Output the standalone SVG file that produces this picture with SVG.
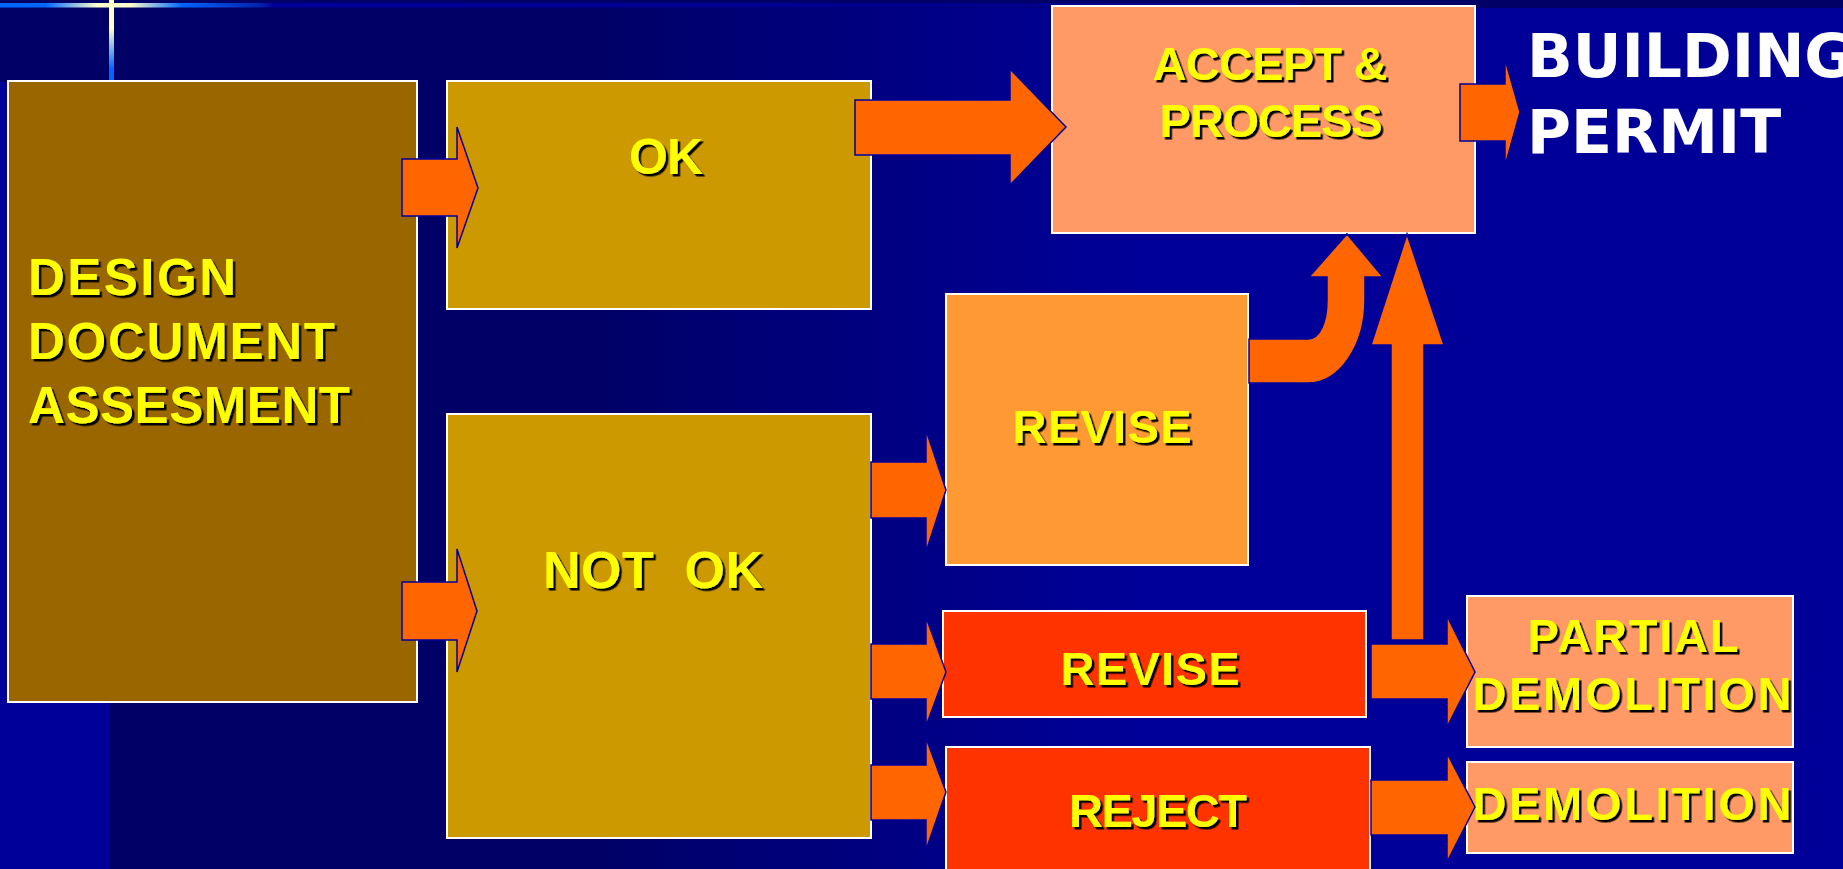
<svg xmlns="http://www.w3.org/2000/svg" width="1843" height="869" viewBox="0 0 1843 869">
<defs>
<linearGradient id="bgGrad" x1="0" y1="0" x2="1843" y2="0" gradientUnits="userSpaceOnUse">
<stop offset="0.06" stop-color="#000066"/>
<stop offset="0.32" stop-color="#000066"/>
<stop offset="0.62" stop-color="#000099"/>
<stop offset="1" stop-color="#000099"/>
</linearGradient>
<linearGradient id="topLine" x1="0" y1="0" x2="1300" y2="0" gradientUnits="userSpaceOnUse">
<stop offset="0" stop-color="#0066ff"/>
<stop offset="0.035" stop-color="#0066ff"/>
<stop offset="0.075" stop-color="#ffffcc"/>
<stop offset="0.1" stop-color="#ffffcc"/>
<stop offset="0.14" stop-color="#0066ff"/>
<stop offset="0.2" stop-color="#0022aa"/>
<stop offset="0.21" stop-color="#000099"/>
<stop offset="1" stop-color="#000088"/>
</linearGradient>
<linearGradient id="vLine" x1="0" y1="0" x2="0" y2="81" gradientUnits="userSpaceOnUse">
<stop offset="0" stop-color="#ffffcc"/>
<stop offset="0.35" stop-color="#ffffcc"/>
<stop offset="0.85" stop-color="#0066ff"/>
<stop offset="1" stop-color="#0066ff"/>
</linearGradient>
<filter id="shadow" x="-10%" y="-20%" width="130%" height="150%">
<feDropShadow dx="2.5" dy="2.5" stdDeviation="0.4" flood-color="#000000" flood-opacity="1"/>
</filter>
<style>
.box{stroke:#ffffff;stroke-width:2}
.arrow{fill:#ff6600;stroke:#000099;stroke-width:1.5;stroke-linejoin:miter}
.lbl{font-family:"Liberation Sans",Arial,sans-serif;font-weight:bold;fill:#ffff00;filter:url(#shadow)}
.mid{text-anchor:middle}
.title{font-family:"DejaVu Sans",Verdana,sans-serif;font-weight:bold;fill:#ffffff;font-size:60px}
</style>
</defs>

<!-- background -->
<rect x="0" y="0" width="1843" height="869" fill="#000099"/>
<rect x="109" y="0" width="1734" height="869" fill="url(#bgGrad)"/>
<rect x="0" y="0" width="109" height="82" fill="#000066"/>
<rect x="0" y="0" width="1843" height="8" fill="#000066"/>
<rect x="0" y="3" width="1300" height="4.5" fill="url(#topLine)"/>
<rect x="109" y="0" width="5" height="81" fill="url(#vLine)"/>

<!-- nodes -->
<g id="design">
<rect class="box" x="8" y="81" width="409" height="621" fill="#996600"/>
<text class="lbl" font-size="51" x="28" y="295" textLength="208" lengthAdjust="spacing">DESIGN</text>
<text class="lbl" font-size="51" x="28" y="359" textLength="307" lengthAdjust="spacing">DOCUMENT</text>
<text class="lbl" font-size="51" x="28" y="423" textLength="322" lengthAdjust="spacing">ASSESMENT</text>
</g>
<g id="ok">
<rect class="box" x="447" y="81" width="424" height="228" fill="#cc9900"/>
<text class="lbl mid" font-size="50" x="666" y="174" textLength="74" lengthAdjust="spacing">OK</text>
</g>
<g id="notok">
<rect class="box" x="447" y="414" width="424" height="424" fill="#cc9900"/>
<text class="lbl mid" font-size="52" x="653" y="588" textLength="220" lengthAdjust="spacing" xml:space="preserve">NOT  OK</text>
</g>
<g id="accept">
<rect class="box" x="1052" y="6" width="423" height="227" fill="#ff9966"/>
<text class="lbl mid" font-size="47" x="1270" y="80" textLength="235" lengthAdjust="spacing">ACCEPT &amp;</text>
<text class="lbl mid" font-size="47" x="1271" y="137" textLength="223" lengthAdjust="spacing">PROCESS</text>
</g>
<g id="permit">
<text class="title" x="1527" y="77">BUILDING</text>
<text class="title" x="1527" y="153">PERMIT</text>
</g>
<g id="revise1">
<rect class="box" x="946" y="294" width="302" height="271" fill="#ff9933"/>
<text class="lbl mid" font-size="47" x="1102" y="443" textLength="179" lengthAdjust="spacing">REVISE</text>
</g>
<g id="revise2">
<rect class="box" x="943" y="611" width="423" height="106" fill="#ff3300"/>
<text class="lbl mid" font-size="47" x="1150" y="685" textLength="179" lengthAdjust="spacing">REVISE</text>
</g>
<g id="reject">
<rect class="box" x="946" y="747" width="424" height="135" fill="#ff3300"/>
<text class="lbl mid" font-size="47" x="1158" y="827" textLength="178" lengthAdjust="spacing">REJECT</text>
</g>
<g id="partial">
<rect class="box" x="1467" y="596" width="326" height="151" fill="#ff9966"/>
<text class="lbl mid" font-size="47" x="1633" y="652" textLength="211" lengthAdjust="spacing">PARTIAL</text>
<text class="lbl mid" font-size="47" x="1632" y="710" textLength="319" lengthAdjust="spacing">DEMOLITION</text>
</g>
<g id="demolition">
<rect class="box" x="1467" y="762" width="326" height="91" fill="#ff9966"/>
<text class="lbl mid" font-size="47" x="1632" y="820" textLength="319" lengthAdjust="spacing">DEMOLITION</text>
</g>

<!-- connectors -->
<g id="connectors">
<polygon class="arrow" points="402,159 457,159 457,127 478,188 457,248 457,216 402,216"/>
<polygon class="arrow" points="402,582 457,582 457,549 477,611 457,672 457,640 402,640"/>
<polygon class="arrow" points="855,100 1010,100 1010,69 1066,127 1010,185 1010,155 855,155"/>
<polygon class="arrow" points="1460,84 1505,84 1505,59 1520,112 1505,166 1505,141 1460,141"/>
<polygon class="arrow" points="871,462 926,462 926,430 946,490 926,552 926,518 871,518"/>
<polygon class="arrow" points="871,644 926,644 926,617 946,672 926,726 926,699 871,699"/>
<polygon class="arrow" points="871,765 926,765 926,738 946,792 926,850 926,820 871,820"/>
<polygon class="arrow" points="1371,644 1447,644 1447,616 1475,672 1447,727 1447,699 1371,699"/>
<polygon class="arrow" points="1371,780 1447,780 1447,753 1475,807 1447,862 1447,835 1371,835"/>
<polygon class="arrow" points="1391,640 1391,345 1371,345 1407,234 1444,345 1424,345 1424,640"/>
<path class="arrow" d="M1249,339 H1308 C1320,339 1327,322 1327,300 V277 H1309 L1347,234 L1383,277 H1365 V300 C1365,345 1340,383 1308,383 H1249 Z"/>
</g>
</svg>
